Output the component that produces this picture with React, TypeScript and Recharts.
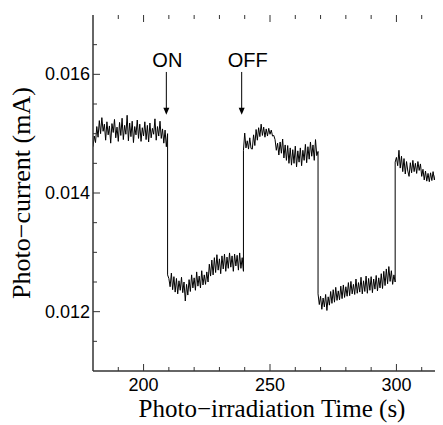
import { LineChart, Line, XAxis, YAxis, ReferenceLine, Label } from "recharts";

// sampled every 0.5 s, one array per light on / off period
const segStarts = [180, 209.5, 239.5, 269, 299.5];

const darkBefore = [
  0.01478, 0.01496, 0.01485, 0.01512, 0.01494, 0.01522, 0.015, 0.01527, 0.01504, 0.01516,
  0.01489, 0.0152, 0.01498, 0.01513, 0.01484, 0.01517, 0.01502, 0.01524, 0.01493, 0.01511,
  0.01487, 0.01519, 0.01497, 0.01526, 0.0149, 0.01514, 0.01499, 0.01531, 0.01488, 0.01518,
  0.01495, 0.01521, 0.01485, 0.01512, 0.01498, 0.01523, 0.01492, 0.01516, 0.01487, 0.0151,
  0.01496, 0.0152, 0.0149, 0.01514, 0.01486, 0.01518, 0.01493, 0.01509, 0.01499, 0.01525,
  0.01489, 0.01512, 0.01496, 0.01521, 0.01492, 0.01508, 0.01484, 0.01506, 0.01478, 0.015,
];

const lightOn1 = [
  0.01262, 0.01256, 0.01242, 0.01265, 0.01237, 0.01259, 0.01233, 0.01256, 0.0123, 0.01252,
  0.01236, 0.01258, 0.01232, 0.0125, 0.01218, 0.01246, 0.01228, 0.01254, 0.01234, 0.01262,
  0.0124, 0.01257, 0.01236, 0.01267, 0.01243, 0.0126, 0.0124, 0.01269, 0.01245, 0.01262,
  0.01246, 0.01267, 0.0125, 0.0128, 0.0126, 0.01287, 0.01262, 0.01291, 0.01266, 0.01296,
  0.0127, 0.01289, 0.01264, 0.01294, 0.01272, 0.01297, 0.01268, 0.01292, 0.01273, 0.01299,
  0.01275, 0.01294, 0.01268, 0.01297, 0.01277, 0.01295, 0.0127, 0.01299, 0.01273, 0.01291,
  0.01268,
];

const lightOff1 = [
  0.01472, 0.01501, 0.01476, 0.01488, 0.01474, 0.01493, 0.01475, 0.01474, 0.01498, 0.0148,
  0.01507, 0.01489, 0.0151, 0.01495, 0.01516, 0.01497, 0.01511, 0.01494, 0.01508, 0.01496,
  0.01509, 0.01499, 0.01506, 0.01496, 0.01497, 0.0149, 0.01472, 0.01484, 0.01464, 0.01486,
  0.01467, 0.01491, 0.01459, 0.01481, 0.01455, 0.0148, 0.0145, 0.01476, 0.01447, 0.01473,
  0.0145, 0.01479, 0.01444, 0.01471, 0.01452, 0.01476, 0.01446, 0.01472, 0.01455, 0.01482,
  0.01451, 0.01478, 0.01457, 0.01486, 0.01462, 0.01481, 0.01455, 0.0149, 0.01463, 0.0147,
];

const lightOn2 = [
  0.0123, 0.01212, 0.01226, 0.01204, 0.01223, 0.01208, 0.01229, 0.01202, 0.01225, 0.01211,
  0.01234, 0.01214, 0.01237, 0.01216, 0.01241, 0.01219, 0.01235, 0.0122, 0.01243, 0.01222,
  0.01245, 0.01224, 0.01242, 0.01226, 0.01249, 0.01227, 0.01251, 0.0123, 0.01246, 0.01229,
  0.01255, 0.01231, 0.01249, 0.01233, 0.01258, 0.0123, 0.01252, 0.01234, 0.0126, 0.01231,
  0.01256, 0.01236, 0.01259, 0.01232, 0.01255, 0.01238, 0.01261, 0.01235, 0.01257, 0.0124,
  0.01264, 0.01239, 0.01268, 0.01244, 0.01272, 0.01247, 0.01276, 0.01251, 0.01269, 0.01246,
  0.01262, 0.0125,
];

const lightOff2 = [
  0.01452, 0.0146, 0.01446, 0.01472, 0.01442, 0.01462, 0.01436, 0.01458, 0.01432, 0.01453,
  0.01437, 0.01428, 0.01451, 0.01434, 0.01455, 0.01436, 0.0145, 0.01433, 0.01453, 0.01438,
  0.01449, 0.01428, 0.0144, 0.01422, 0.01437, 0.0142, 0.01433, 0.01419, 0.01434, 0.01421,
  0.01436, 0.01422, 0.01432, 0.01418, 0.01435, 0.01423, 0.01437,
];

const segments = [darkBefore, lightOn1, lightOff1, lightOn2, lightOff2];

const xTicks = [190, 200, 210, 220, 230, 240, 250, 260, 270, 280, 290, 300, 310];
const xLabeled = [200, 250, 300];
const yTicks = [0.0115, 0.012, 0.0125, 0.013, 0.0135, 0.014, 0.0145, 0.015, 0.0155, 0.016, 0.0165];
const yLabeled = [0.012, 0.014, 0.016];

const marks = [
  { text: "ON", t: 209, top: 0.01604, tip: 0.01532, dx: 1 },
  { text: "OFF", t: 238.8, top: 0.01604, tip: 0.01532, dx: 6 },
];

const data = segments.flatMap((vals, s) =>
  vals.map((v, i) => ({ t: segStarts[s] + i * 0.5, v }))
);

const H = 417;
const PLOT_TOP = 7;
const PLOT_BOTTOM = 363;
const PLOT_LEFT = 85;
const AXIS = "#333";
const SANS = "'Liberation Sans', Arial, sans-serif";
const SERIF = "'Liberation Serif', 'Times New Roman', serif";

function XTick(props: any) {
  const { x, payload } = props;
  const major = xLabeled.includes(payload.value);
  const len = major ? 7 : 4;
  return (
    <g>
      <line x1={x} x2={x} y1={PLOT_BOTTOM} y2={PLOT_BOTTOM - len} stroke={AXIS} />
      <line x1={x} x2={x} y1={PLOT_TOP} y2={PLOT_TOP + len} stroke={AXIS} />
      {major && (
        <text x={x} y={383} textAnchor="middle" fontSize={18} style={{ fontFamily: SANS }} fill="#000">
          {payload.value}
        </text>
      )}
    </g>
  );
}

function YTick(props: any) {
  const { y, payload } = props;
  const major = yLabeled.some((m) => Math.abs(m - payload.value) < 1e-9);
  const len = major ? 7 : 4;
  return (
    <g>
      <line x1={PLOT_LEFT} x2={PLOT_LEFT + len} y1={y} y2={y} stroke={AXIS} />
      {major && (
        <text x={82} y={y + 6} textAnchor="end" fontSize={18} style={{ fontFamily: SANS }} fill="#000">
          {payload.value.toFixed(3)}
        </text>
      )}
    </g>
  );
}

function Arrow(props: any, text: string, dx: number) {
  const { x1, y1, y2 } = props;
  const top = Math.min(y1, y2);
  const tip = Math.max(y1, y2);
  return (
    <g>
      <line x1={x1} x2={x1} y1={top} y2={tip - 6} stroke="#000" strokeWidth={1} />
      <polygon points={`${x1 - 3},${tip - 7} ${x1 + 3},${tip - 7} ${x1},${tip}`} fill="#000" />
      <text x={x1 + dx} y={top - 5} textAnchor="middle" fontSize={20} style={{ fontFamily: SANS }} fill="#000">
        {text}
      </text>
    </g>
  );
}

export default function App() {
  return (
    <div style={{ width: 435, height: H, overflow: "hidden" }}>
      <LineChart
        width={439}
        height={H}
        data={data}
        margin={{ top: PLOT_TOP, right: 0, bottom: 0, left: 0 }}
      >
        <XAxis
          type="number"
          dataKey="t"
          domain={[180, 320]}
          ticks={xTicks}
          interval={0}
          height={H - PLOT_BOTTOM}
          stroke={AXIS}
          strokeWidth={1.5}
          tickLine={false}
          tick={<XTick />}
          allowDataOverflow
        >
          <Label
            content={(p: any) => (
              <text
                x={p.viewBox.x + p.viewBox.width / 2 + 2}
                y={409}
                textAnchor="middle"
                fontSize={25}
                style={{ fontFamily: SERIF }}
                fill="#000"
              >
                Photo−irradiation Time (s)
              </text>
            )}
          />
        </XAxis>
        <XAxis
          xAxisId="top"
          orientation="top"
          type="number"
          dataKey="t"
          domain={[180, 320]}
          height={0}
          tick={false}
          tickLine={false}
          stroke={AXIS}
          strokeWidth={1.5}
        />
        <YAxis
          type="number"
          domain={[0.011, 0.017]}
          ticks={yTicks}
          interval={0}
          width={PLOT_LEFT}
          stroke={AXIS}
          strokeWidth={1.5}
          tickLine={false}
          tick={<YTick />}
          allowDataOverflow
        >
          <Label
            content={(p: any) => {
              const cy = p.viewBox.y + p.viewBox.height / 2;
              return (
                <text
                  x={22}
                  y={cy}
                  transform={`rotate(-90, 22, ${cy})`}
                  textAnchor="middle"
                  fontSize={26}
                  style={{ fontFamily: SERIF }}
                  fill="#000"
                >
                  Photo−current (mA)
                </text>
              );
            }}
          />
        </YAxis>
        {marks.map((m) => (
          <ReferenceLine
            key={m.text}
            segment={[
              { x: m.t, y: m.top },
              { x: m.t, y: m.tip },
            ]}
            shape={(p: any) => Arrow(p, m.text, m.dx)}
            ifOverflow="visible"
          />
        ))}
        <Line
          type="linear"
          dataKey="v"
          stroke="#000"
          strokeWidth={1}
          dot={false}
          isAnimationActive={false}
        />
      </LineChart>
    </div>
  );
}
